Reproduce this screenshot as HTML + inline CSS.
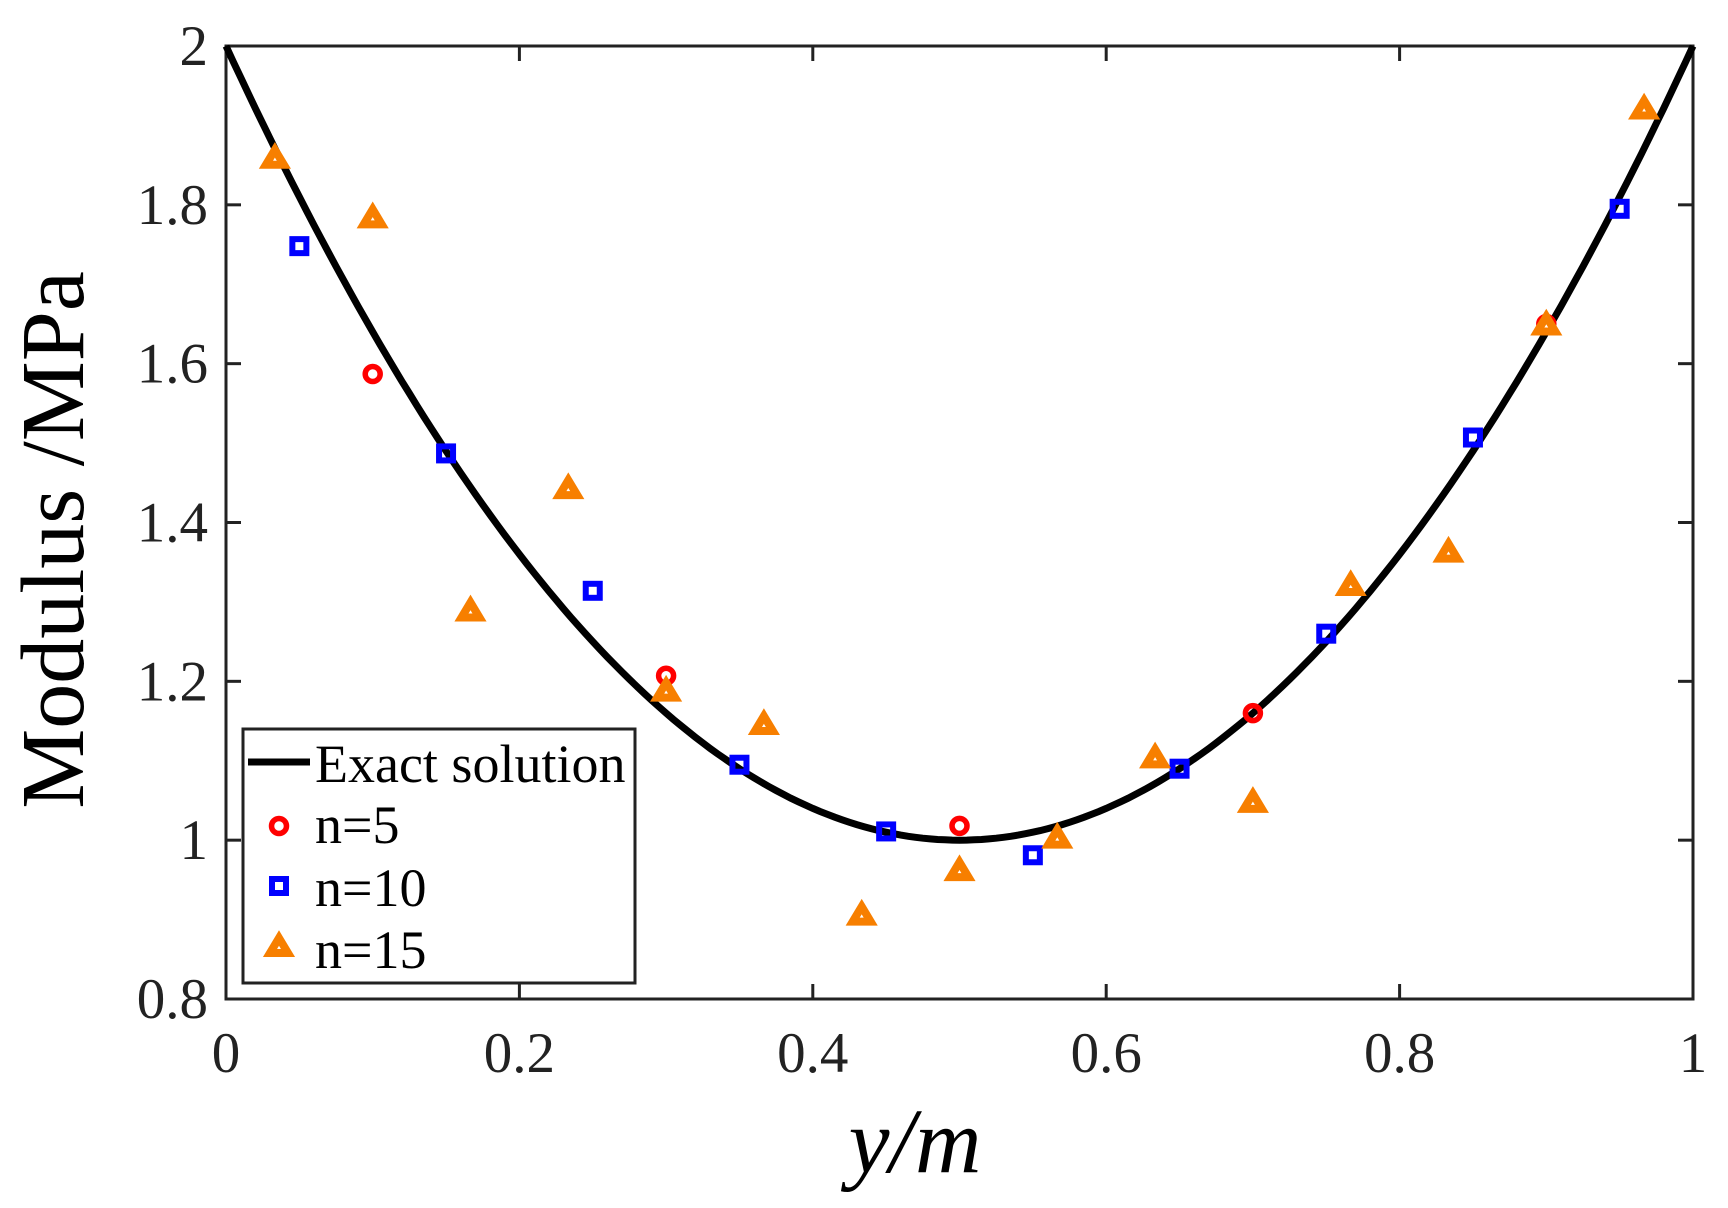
<!DOCTYPE html>
<html><head><meta charset="utf-8"><style>
html,body{margin:0;padding:0;background:#fff}
svg{display:block}
text{font-family:"Liberation Serif",serif;fill:#222}
</style></head><body>
<svg id="s" width="1728" height="1208" viewBox="0 0 1728 1208" xmlns="http://www.w3.org/2000/svg">
<text x="0" y="0" style="display:none">chart</text>
</svg>
<script>
const s=document.getElementById('s');
const X0=226,X1=1693,YT=46,YB=999;
const px=v=>X0+(X1-X0)*v, py=v=>YB-(YB-YT)*(v-0.8)/1.2;
let h='';
h+=`<rect x="${X0}" y="${YT}" width="${X1-X0}" height="${YB-YT}" fill="none" stroke="#222" stroke-width="3"/>`;
for(let i=0;i<=5;i++){const x=px(i*0.2);
 h+=`<line x1="${x}" y1="${YB}" x2="${x}" y2="${YB-15}" stroke="#222" stroke-width="3"/><line x1="${x}" y1="${YT}" x2="${x}" y2="${YT+15}" stroke="#222" stroke-width="3"/>`;
 const lab=i==0?'0':i==5?'1':(i*0.2).toFixed(1);
 h+=`<text x="${x}" y="1072" font-size="57" text-anchor="middle">${lab}</text>`;}
for(let i=0;i<=6;i++){const v=0.8+i*0.2,y=py(v);
 h+=`<line x1="${X0}" y1="${y}" x2="${X0+15}" y2="${y}" stroke="#222" stroke-width="3"/><line x1="${X1}" y1="${y}" x2="${X1-15}" y2="${y}" stroke="#222" stroke-width="3"/>`;
 const lab=i==6?'2':i==1?'1':v.toFixed(1);
 h+=`<text x="208" y="${y+19}" font-size="57" text-anchor="end">${lab}</text>`;}
let d='';for(let i=0;i<=200;i++){const v=i/200;d+=(i?'L':'M')+px(v).toFixed(1)+' '+py(1+4*(v-0.5)**2).toFixed(1);}
h+=`<path d="${d}" fill="none" stroke="#000" stroke-width="7"/>`;
const circ=(x,y)=>`<circle cx="${x}" cy="${y}" r="7.5" fill="none" stroke="#f00" stroke-width="5.5"/>`;
const sq=(x,y)=>`<rect x="${x-7}" y="${y-7}" width="14" height="14" fill="none" stroke="#00f" stroke-width="6"/>`;
const tri=(x,y)=>`<path d="M${x} ${y-9}L${x+9} ${y+6}L${x-9} ${y+6}Z" fill="#fff" stroke="#f77f00" stroke-width="8" stroke-linejoin="miter"/>`;
const n5=[[0.1,1.587],[0.3,1.207],[0.5,1.018],[0.7,1.16],[0.9,1.65]];
const n10=[[0.05,1.748],[0.15,1.487],[0.25,1.314],[0.35,1.095],[0.45,1.011],[0.55,0.981],[0.65,1.09],[0.75,1.26],[0.85,1.507],[0.95,1.795]];
const n15v=[1.858,1.783,1.288,1.442,1.187,1.145,0.905,0.961,1.002,1.103,1.047,1.32,1.362,1.648,1.92];
n5.forEach(p=>h+=circ(px(p[0]),py(p[1])));
n10.forEach(p=>h+=sq(px(p[0]),py(p[1])));
n15v.forEach((v,i)=>h+=tri(px((i+0.5)/15),py(v)));
h+=`<rect x="243" y="729" width="392" height="254" fill="#fff" stroke="#222" stroke-width="3"/>`;
h+=`<line x1="248" y1="762" x2="310" y2="762" stroke="#000" stroke-width="7"/>`;
h+=circ(279,826)+sq(279,886)+tri(279,947);
h+=`<text x="315" y="782" font-size="54" style="fill:#000">Exact solution</text>`;
h+=`<text x="315" y="843" font-size="54" style="fill:#000">n=5</text>`;
h+=`<text x="315" y="906" font-size="54" style="fill:#000">n=10</text>`;
h+=`<text x="315" y="968" font-size="54" style="fill:#000">n=15</text>`;
h+=`<text transform="translate(83,540) rotate(-90)" font-size="90" text-anchor="middle" style="fill:#000">Modulus /MPa</text>`;
h+=`<text x="915" y="1172" font-size="92" font-style="italic" text-anchor="middle" style="fill:#000">y/m</text>`;
s.innerHTML=h;
</script>
</body></html>
